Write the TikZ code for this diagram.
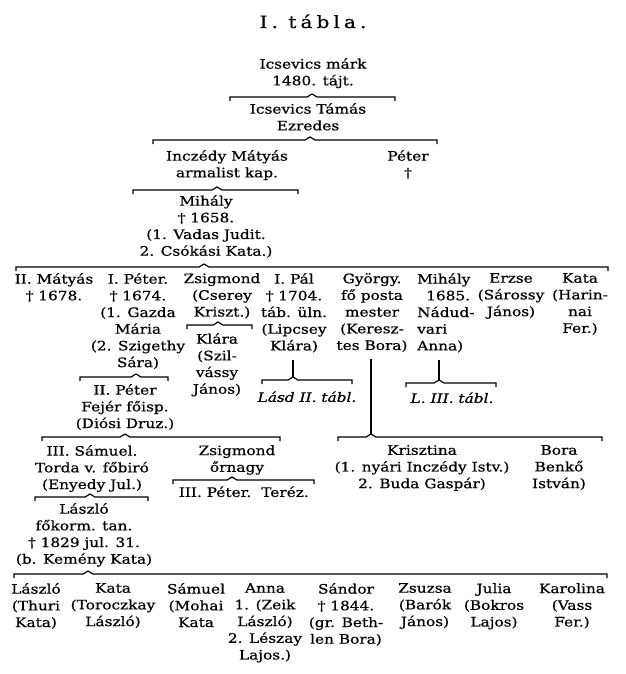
\documentclass[tikz,border=0pt]{standalone}
\usepackage{fontspec}
\setmainfont{DejaVu Serif}[FakeStretch=1.18,FakeBold=0.6]
\newcommand\famfont{\fontsize{13}{16.7}\selectfont}
\newcommand\fambrace[5]{% left x, right x, peak x, y, name of peak
  \draw[conn] (#1,#4+4) -- (#1,#4) -- (#3-5,#4) -- (#3,#4-3) -- (#3+5,#4) -- (#2,#4) -- (#2,#4+4);
  \coordinate (#5) at (#3,#4-3);}
\tikzset{
  fam/.style={align=center, anchor=north, inner sep=0pt, font=\famfont, execute at begin node=\strut},
  famL/.style={fam, align=left, anchor=north west},
  tabref/.style={fam, font=\famfont\itshape},
  conn/.style={line width=1.2pt, line join=miter, black},
}
\begin{document}
\begin{tikzpicture}[x=1pt,y=-1pt]
\fill[white] (0,0) rectangle (625,674);
\useasboundingbox (0,0) rectangle (625,674);

\node[anchor=base, inner sep=0pt, font=\fontsize{17}{20}\selectfont\addfontfeatures{LetterSpace=24}] (title) at (313,28) {I. tábla.};

% generation 1-4
\node[fam] (icsm) at (313,65-7) {Icsevics márk\\1480. tájt.};
\fambrace{230}{395}{312}{97}{b1}
\node[fam] (icst) at (308,110-7) {Icsevics Támás\\Ezredes};
\fambrace{153}{437}{310}{140}{b2}
\node[fam] (incz) at (227,157-7) {Inczédy Mátyás\\armalist kap.};
\node[fam] (peter0) at (408,157-7) {Péter\\†};
\fambrace{133}{298}{217}{190}{b3}
\node[fam] (mihaly) at (206,202-7) {Mihály\\† 1658.\\(1. Vadas Judit.\\2. Csókási Kata.)};
\fambrace{16}{608}{204}{267}{b4}

% row 1
\node[fam] (matyas2) at (54,280-7) {II. Mátyás\\† 1678.};
\node[fam] (peter1) at (138,280-7) {I. Péter.\\† 1674.\\(1. Gazda\\Mária\\(2. Szigethy\\Sára)};
\node[fam] (zsig1) at (222,280-7) {Zsigmond\\(Cserey\\Kriszt.)};
\fambrace{187}{252}{218}{325}{bzs}
\node[fam] (klara) at (217,340-7) {Klára\\(Szil-\\vássy\\János)};
\node[fam] (pal) at (294,280-7) {I. Pál\\† 1704.\\táb. üln.\\(Lipcsey\\Klára)};
\fambrace{262}{352}{293}{380}{bpal}
\draw[conn] ([yshift=-4pt]pal.south -| bpal) -- (bpal);
\node[tabref] (lasd) at (307,397-7) {Lásd II. tábl.};
\node[fam] (gyorgy) at (372,280-7) {György.\\fő posta\\mester\\(Keresz-\\tes Bora)};
\node[famL] (mihaly2) at (417,280-7) {Mihály\\\hspace*{9pt}1685.\\Nádud-\\vari\\Anna)};
\fambrace{406}{496}{439}{383}{bmih}
\draw[conn] ([yshift=-4pt]mihaly2.south -| bmih) -- (bmih);
\node[tabref] (ltabl) at (452,398-7) {L. III. tábl.};
\node[fam] (erzse) at (511,280-7) {Erzse\\(Sárossy\\János)};
\node[fam] (kata1) at (580,280-7) {Kata\\(Harin-\\nai\\Fer.)};

% row 2
\fambrace{80}{168}{136}{377}{bp1}
\node[fam] (peter2) at (125,391-7) {II. Péter\\Fejér főisp.\\(Diósi Druz.)};
\fambrace{42}{280}{125}{437}{bp2}
\node[fam] (samuel) at (92,452-7) {III. Sámuel.\\Torda v. főbiró\\(Enyedy Jul.)};
\node[fam] (zsig2) at (237,452-7) {Zsigmond\\őrnagy};
\fambrace{173}{314}{232}{480}{bz2}
\node[fam] (peter3) at (215,492-7) {III. Péter.};
\node[fam] (terez) at (285,492-7) {Teréz.};
\fambrace{338}{602}{371}{437}{bgy}
\draw[conn] ([yshift=-4pt]gyorgy.south -| bgy) -- (bgy);
\node[fam] (kriszt) at (422,452-7) {Krisztina\\(1. nyári Inczédy Istv.)\\2. Buda Gaspár)};
\node[fam] (bora) at (559,452-7) {Bora\\Benkő\\István)};

% row 3
\fambrace{35}{148}{90}{497}{bs}
\node[fam] (laszlo) at (84,510-7) {László\\főkorm. tan.\\† 1829 jul. 31.\\(b. Kemény Kata)};
\fambrace{14}{607}{88}{574}{bl}

% row 4
\node[fam] (laszlo2) at (36,590-7) {László\\(Thuri\\Kata)};
\node[fam] (kata2) at (113,590-7) {Kata\\(Toroczkay\\László)};
\node[fam] (samuel2) at (196,590-7) {Sámuel\\(Mohai\\Kata};
\node[fam] (anna) at (265,590-7) {Anna\\1. (Zeik\\László)\\2. Lészay\\Lajos.)};
\node[fam] (sandor) at (346,590-7) {Sándor\\† 1844.\\(gr. Beth-\\len Bora)};
\node[fam] (zsuzsa) at (425,590-7) {Zsuzsa\\(Barók\\János)};
\node[fam] (julia) at (494,590-7) {Julia\\(Bokros\\Lajos)};
\node[fam] (karolina) at (572,590-7) {Karolina\\(Vass\\Fer.)};
\end{tikzpicture}
\end{document}
